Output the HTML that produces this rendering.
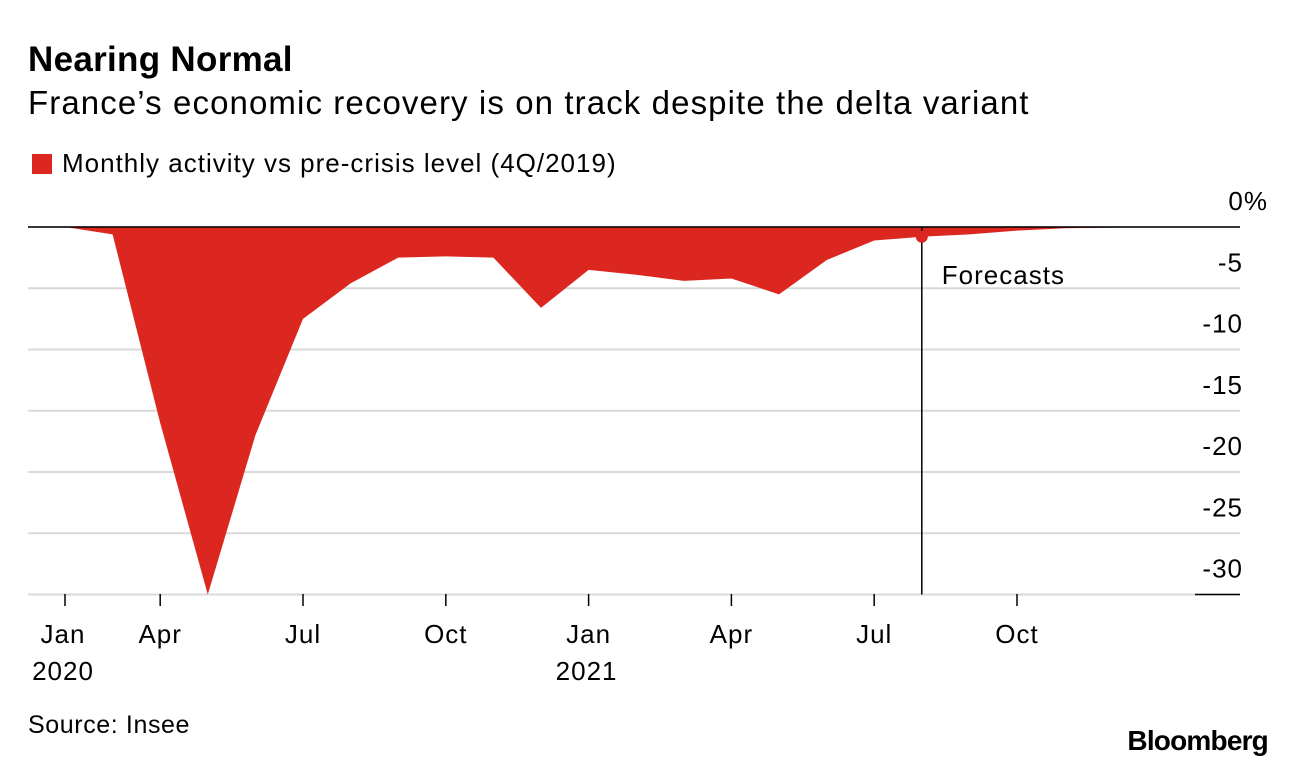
<!DOCTYPE html>
<html><head><meta charset="utf-8"><style>
body{margin:0;background:#fff;font-family:"Liberation Sans",sans-serif;}
#wrap{position:relative;width:1296px;height:766px;overflow:hidden}
.t{position:absolute;color:#000;white-space:nowrap}
</style></head><body>
<div id="wrap">
<div class="t" style="left:28px;top:40px;font-size:35px;font-weight:bold;letter-spacing:0.3px">Nearing Normal</div>
<div class="t" style="left:28px;top:84px;font-size:33px;letter-spacing:1.1px">France’s economic recovery is on track despite the delta variant</div>
<div class="t" style="left:32px;top:148px;font-size:26px;letter-spacing:1px"><span style="display:inline-block;width:20px;height:20px;background:#dc2720;margin-right:10px;vertical-align:-2px"></span>Monthly activity vs pre-crisis level (4Q/2019)</div>
<svg id="chart" width="1296" height="766" style="position:absolute;left:0;top:0"></svg>
<div class="t" style="left:28px;top:711px;font-size:25px;letter-spacing:0.6px">Source: Insee</div>
<div class="t" style="right:28px;top:725px;font-size:28px;font-weight:bold;letter-spacing:-0.8px">Bloomberg</div>
</div>
<script>
const values=[0,-0.6,-16,-30,-17,-7.5,-4.6,-2.5,-2.4,-2.5,-6.6,-3.5,-3.9,-4.4,-4.2,-5.5,-2.7,-1.1,-0.8,-0.6,-0.3,-0.1,-0.05,0];
const tickIdx=[0,2,5,8,11,14,17,20];
const tickLabels=["Jan","Apr","Jul","Oct","Jan","Apr","Jul","Oct"];
const yearLabels=["2020","","","","2021","","",""];
const yTicks=[0,-5,-10,-15,-20,-25,-30];
const forecastIdx=18;
const NS="http://www.w3.org/2000/svg",svg=document.getElementById('chart');
const x=i=>65+i*47.6, y=v=>227-v*12.25;
const FS='font-size:26px;letter-spacing:1px;font-family:Liberation Sans, sans-serif';
function mk(t,a){const e=document.createElementNS(NS,t);for(const k in a)e.setAttribute(k,a[k]);svg.appendChild(e);return e;}
yTicks.forEach(v=>{
 const g=mk('line',{x1:28,x2:1240,y1:y(v),y2:y(v),stroke:'#d9d9d9','stroke-width':2});
 
 
 const t=mk('text',{x:v===0?1268:1243,y:y(v)-17,'text-anchor':'end',style:FS});
 t.textContent=v===0?'0%':String(v);
 
 
});
let d=`M28,${y(0)} `+values.map((v,i)=>`L${x(i)},${y(v)}`).join(' ')+` L1195,${y(0)} Z`;
const area=mk('path',{d:d,fill:'#dc2720'});


const z=mk('line',{x1:28,x2:1240,y1:y(0),y2:y(0),stroke:'#000','stroke-width':1.5});


const b=mk('line',{x1:1195,x2:1240,y1:y(-30),y2:y(-30),stroke:'#000','stroke-width':1.5});


const fl=mk('line',{x1:x(forecastIdx),x2:x(forecastIdx),y1:y(0),y2:y(-30),stroke:'#000','stroke-width':1.5});


const dot=mk('circle',{cx:x(forecastIdx),cy:y(values[forecastIdx]),r:6,fill:'#dc2720'});


const ft=mk('text',{x:x(forecastIdx)+20,y:284,style:FS});
ft.textContent='Forecasts';


tickIdx.forEach((ti,k)=>{
 const tk=mk('line',{x1:x(ti),x2:x(ti),y1:594,y2:606,stroke:'#000','stroke-width':1.5});
 
 
 const t=mk('text',{x:x(ti)+(k===0?-2:0),y:643,'text-anchor':'middle',style:FS});
 t.textContent=tickLabels[k];
 
 
 if(yearLabels[k]){const yt=mk('text',{x:x(ti)-2,y:680,'text-anchor':'middle',style:FS});
 yt.textContent=yearLabels[k];
 
 }
});
</script>
</body></html>
